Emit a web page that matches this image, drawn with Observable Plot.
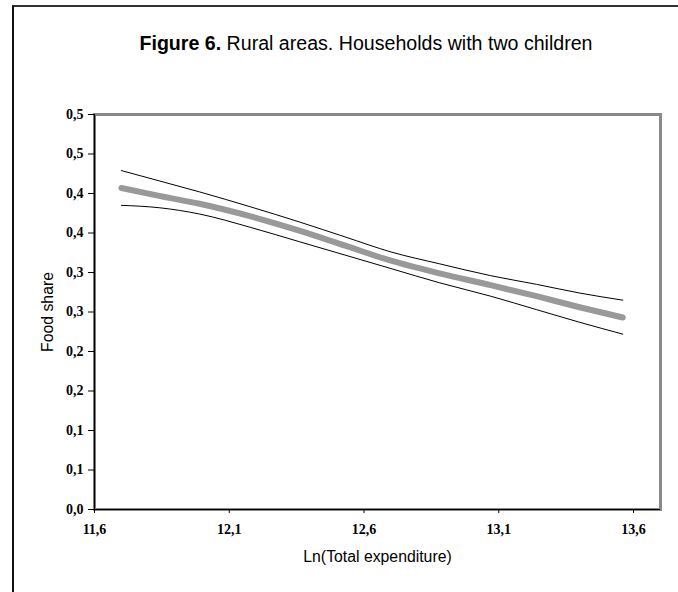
<!DOCTYPE html>
<html>
<head>
<meta charset="utf-8">
<script src="https://cdn.jsdelivr.net/npm/d3@7"></script>
<script src="https://cdn.jsdelivr.net/npm/@observablehq/plot@0.6"></script>
<style>
  html, body { margin: 0; padding: 0; background: #fff; }
  #wrap { position: relative; width: 678px; height: 592px; overflow: hidden; background: #fff; }
  #border { position: absolute; left: 12px; top: 5px; width: 800px; height: 800px;
            border-top: 2px solid #333; border-left: 2px solid #111; }
  #title { position: absolute; left: 0; top: 32px; width: 732px; text-align: center;
           font-family: "Liberation Sans", Arial, sans-serif; font-size: 19.6px; line-height: 22px;
           color: #000; white-space: nowrap; }
  #title b { font-weight: bold; }
  #chart { position: absolute; left: 0; top: 80px; }
  #chart svg { background: transparent !important; overflow: visible; }
  g[aria-label="x-axis tick label"] text, g[aria-label="y-axis tick label"] text {
    font-family: "Liberation Serif", "Times New Roman", serif; font-weight: bold; font-size: 14px; }
  g[aria-label="x-axis label"] text, g[aria-label="y-axis label"] text {
    font-family: "Liberation Sans", Arial, sans-serif; font-weight: normal; font-size: 15.8px; }
</style>
</head>
<body>
<div id="wrap">
  <div id="border"></div>
  <div id="title"><b>Figure 6.</b> Rural areas. Households with two children</div>
  <div id="chart"></div>
</div>
<script>
// Ln(Total expenditure) sample points
const xs     = [11.70, 11.84, 11.99, 12.18, 12.36, 12.53, 12.70, 12.88, 13.07, 13.24, 13.40, 13.56];
// estimated food share
const mid    = [0.407, 0.397, 0.387, 0.371, 0.353, 0.334, 0.315, 0.299, 0.284, 0.270, 0.256, 0.243];
// upper confidence band
const upper  = [0.429, 0.416, 0.402, 0.383, 0.364, 0.345, 0.326, 0.311, 0.296, 0.285, 0.274, 0.265];
// lower confidence band
const lower  = [0.385, 0.382, 0.374, 0.357, 0.339, 0.322, 0.305, 0.287, 0.270, 0.253, 0.237, 0.222];

const xTicks = [11.6, 12.1, 12.6, 13.1, 13.6];
const xTickLabels = ["11,6", "12,1", "12,6", "13,1", "13,6"];
const yTicks = [0, 0.05, 0.1, 0.15, 0.2, 0.25, 0.3, 0.35, 0.4, 0.45, 0.5];
const yTickLabels = ["0,0", "0,1", "0,1", "0,2", "0,2", "0,3", "0,3", "0,4", "0,4", "0,5", "0,5"];

const chart = Plot.plot({
  width: 678,
  height: 512,
  marginLeft: 94,
  marginRight: 18,
  marginTop: 34,
  marginBottom: 83,
  style: { background: "transparent", color: "#000" },
  x: { domain: [11.6, 13.7] },
  y: { domain: [0, 0.5] },
  marks: [
    Plot.frame({ stroke: "#8a8a8a", strokeWidth: 3 }),
    Plot.ruleY([0], { stroke: "#000", strokeWidth: 1.2 }),
    Plot.ruleX([11.6], { stroke: "#000", strokeWidth: 1.2 }),
    Plot.axisX({
      ticks: xTicks,
      tickFormat: d => xTickLabels[xTicks.indexOf(d)],
      tickSize: 4,
      tickPadding: 11,
      label: "Ln(Total expenditure)",
      labelAnchor: "center",
      labelArrow: "none",
      labelOffset: 52
    }),
    Plot.axisY({
      ticks: yTicks,
      tickFormat: d => yTickLabels[yTicks.indexOf(d)],
      tickSize: 6,
      tickPadding: 5,
      label: "Food share",
      labelAnchor: "center",
      labelArrow: "none",
      labelOffset: 53
    }),
    Plot.line(xs, { x: d => d, y: (d, i) => upper[i], stroke: "#000", strokeWidth: 1, curve: "monotone-x" }),
    Plot.line(xs, { x: d => d, y: (d, i) => lower[i], stroke: "#000", strokeWidth: 1, curve: "monotone-x" }),
    Plot.line(xs, { x: d => d, y: (d, i) => mid[i], stroke: "#999999", strokeWidth: 6, strokeLinecap: "round", curve: "monotone-x" })
  ]
});
document.getElementById("chart").appendChild(chart);
</script>
</body>
</html>
